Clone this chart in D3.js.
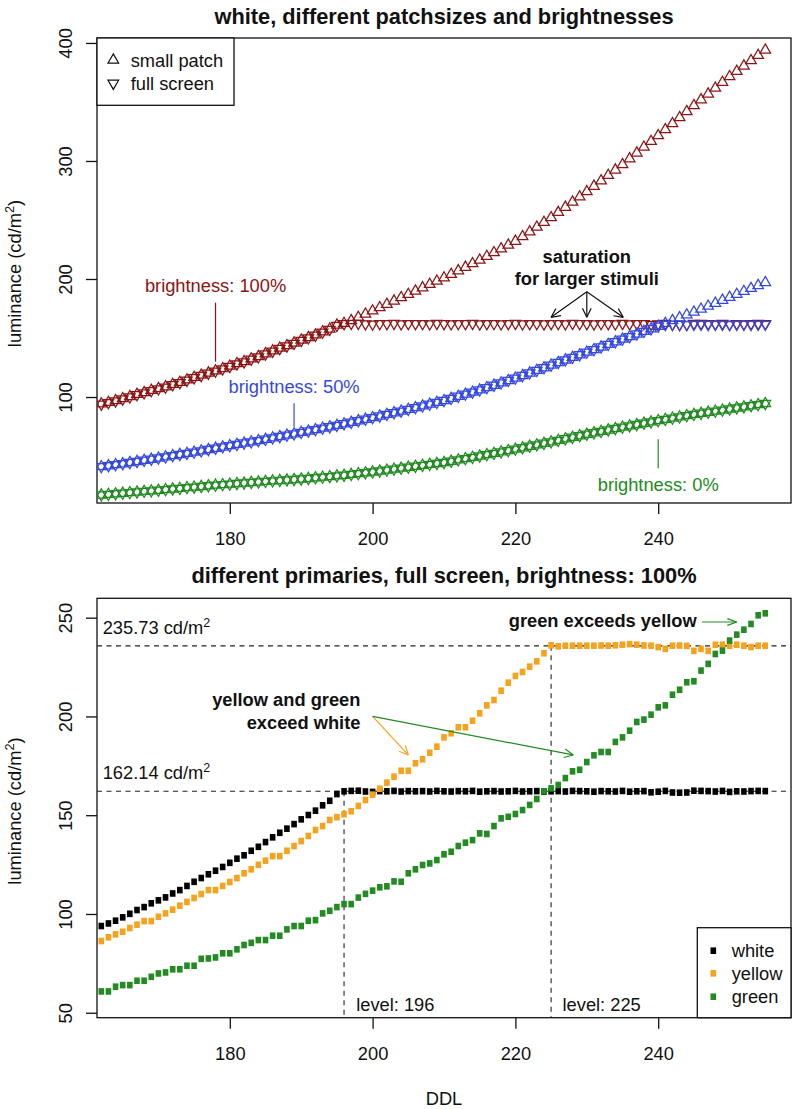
<!DOCTYPE html>
<html><head><meta charset="utf-8">
<script src="https://cdn.jsdelivr.net/npm/d3@7"></script>
<style>
body{margin:0;background:#fff}
svg{display:block}
text{font-family:"Liberation Sans",Arial,Helvetica,sans-serif;fill:#111}
</style>
</head><body>
<svg id="c" width="793" height="1109"></svg>
<script>
// ---------------- DATA ----------------
const ddl = [162,163,164,165,166,167,168,169,170,171,172,173,174,175,176,177,178,179,180,181,
182,183,184,185,186,187,188,189,190,191,192,193,194,195,196,197,198,199,200,201,
202,203,204,205,206,207,208,209,210,211,212,213,214,215,216,217,218,219,220,221,
222,223,224,225,226,227,228,229,230,231,232,233,234,235,236,237,238,239,240,241,
242,243,244,245,246,247,248,249,250,251,252,253,254,255];

// bottom panel: full screen, brightness 100%
const whiteFull = [93.9,95.2,96.6,98.3,100.1,102.0,103.5,105.4,106.9,108.4,
110.4,112.1,114.2,116.3,118.2,120.1,121.9,123.8,125.9,128.0,
129.7,132.0,134.0,136.4,138.8,141.1,143.2,145.5,147.9,150.1,
152.3,155.0,157.3,160.7,162.1,
162.3,162.4,162.0,161.8,162.2,162.1,162.3,162.0,162.2,162.1,
162.2,162.0,162.3,162.1,162.0,162.2,162.1,162.3,161.9,162.1,
162.2,162.0,162.1,162.3,162.0,162.1,162.2,161.9,162.1,162.2,
162.0,162.3,162.2,162.1,161.9,162.2,162.1,162.0,162.3,161.9,
162.1,162.2,161.6,161.9,162.3,161.5,161.4,161.5,162.4,162.3,
162.2,162.0,162.3,161.8,162.1,162.0,162.2,162.3,162.2];
const yellowFull = [86.3,88.2,89.7,91.0,92.9,94.6,96.4,96.4,98.6,100.3,
102.2,104.2,106.1,108.1,110.1,112.1,112.1,114.2,116.2,118.2,
120.6,122.6,124.9,127.0,129.3,129.3,132.0,134.4,136.9,139.5,
142.5,144.5,147.6,149.0,150.5,152.0,154.7,157.7,160.4,163.4,
166.5,169.5,172.5,172.5,176.3,178.3,181.6,184.7,189.4,191.5,
194.5,194.5,197.8,201.6,205.6,208.3,213.0,217.1,220.5,222.5,
225.2,227.9,232.0,236.0,235.5,235.8,235.8,235.8,235.8,235.8,
235.9,235.8,236.0,236.3,236.6,236.3,235.9,235.8,235.1,234.2,
235.8,235.9,235.7,233.2,234.2,233.2,236.3,236.3,235.8,236.3,
235.8,235.1,235.8,235.8];
const greenFull = [60.8,60.8,63.2,64.0,64.0,66.2,66.2,68.2,69.9,70.4,
72.0,72.0,73.8,73.8,77.3,77.5,78.0,80.1,80.1,82.1,
84.3,85.4,86.8,86.8,89.0,89.0,92.2,93.9,93.9,96.6,
96.9,100.3,101.6,103.5,105.0,105.0,108.3,110.2,111.8,113.5,
114.0,116.5,116.3,120.6,122.6,124.8,125.6,127.3,130.2,131.5,
134.4,136.1,137.4,140.8,140.5,144.5,148.4,149.2,150.6,152.6,
155.2,158.2,162.1,163.6,165.3,168.8,172.2,173.0,176.9,180.3,
182.0,182.0,187.1,189.4,192.8,197.2,198.4,200.9,204.6,205.6,
211.0,213.5,217.3,217.8,223.2,226.6,231.6,233.3,238.4,241.4,
243.9,246.8,251.2,252.2];

// top panel: white, small patch vs full screen, three brightness settings
const b100Small = [94.2,95.5,96.9,98.6,100.4,102.3,103.8,105.7,107.2,108.7,
110.7,112.4,114.5,116.6,118.5,120.4,122.2,124.1,126.2,128.3,
130.0,132.3,134.3,136.7,139.1,141.4,143.5,145.8,148.2,150.4,
152.6,155.3,157.6,161.0,162.4,164.8,167.5,170.2,173.0,175.8,
178.6,181.4,184.2,187.0,189.8,192.6,195.4,198.2,201.0,204.0,
207.0,210.0,213.0,216.0,219.2,222.4,225.6,228.8,232.0,236.0,
240.0,244.0,248.0,252.0,256.4,260.8,265.2,269.6,274.0,278.6,
283.2,287.8,292.4,297.0,301.9,306.8,311.7,316.6,321.5,326.6,
331.7,336.8,341.9,347.0,351.9,356.8,361.7,366.6,371.5,376.0,
380.5,385.0,389.5,394.0];
const b100Full = [93.9,95.2,96.6,98.3,100.1,102.0,103.5,105.4,106.9,108.4,
110.4,112.1,114.2,116.3,118.2,120.1,121.9,123.8,125.9,128.0,
129.7,132.0,134.0,136.4,138.8,141.1,143.2,145.5,147.9,150.1,
152.3,155.0,157.3,160.7,162.1,162.3,162.4,162.0,161.8,162.2,
162.1,162.3,162.0,162.2,162.1,162.2,162.0,162.3,162.1,162.0,
162.2,162.1,162.3,161.9,162.1,162.2,162.0,162.1,162.3,162.0,
162.1,162.2,161.9,162.1,162.2,162.0,162.3,162.2,162.1,161.9,
162.2,162.1,162.0,162.3,161.9,162.1,162.2,161.6,161.9,162.3,
161.5,161.4,161.5,162.4,162.3,162.2,162.0,162.3,161.8,162.1,
162.0,162.2,162.3,162.2];
const b50Small = [41.0,41.8,42.7,43.5,44.5,45.4,46.4,47.3,48.3,49.3,
50.3,51.3,52.3,53.3,54.4,55.5,56.6,57.7,58.8,59.9,
61.0,62.0,63.1,64.2,65.4,66.5,67.7,68.8,70.0,71.2,
72.4,73.6,74.8,76.0,77.3,78.6,79.9,81.2,82.5,83.9,
85.3,86.7,88.1,89.5,91.0,92.5,94.0,95.5,97.0,98.8,
100.6,102.4,104.2,106.0,108.0,110.0,112.0,114.0,116.0,118.2,
120.4,122.6,124.8,127.0,129.2,131.4,133.6,135.8,138.0,140.2,
142.4,144.6,146.8,149.0,151.2,153.4,155.6,157.8,160.0,162.4,
164.8,167.2,169.6,172.0,174.5,177.0,179.5,182.0,184.5,187.0,
189.5,192.0,194.5,197.0];
const b50Full = [41.0,41.8,42.7,43.5,44.5,45.4,46.4,47.3,48.3,49.3,
50.3,51.3,52.3,53.3,54.4,55.5,56.6,57.7,58.8,59.9,
61.0,62.0,63.1,64.2,65.4,66.5,67.7,68.8,70.0,71.2,
72.4,73.6,74.8,76.0,77.3,78.6,79.9,81.2,82.5,83.9,
85.3,86.7,88.1,89.5,91.0,92.5,94.0,95.5,97.0,98.8,
100.6,102.4,104.2,106.0,108.0,110.0,112.0,114.0,116.0,118.2,
120.4,122.6,124.8,127.0,129.2,131.4,133.6,135.8,138.0,140.2,
142.4,144.6,146.8,149.0,151.2,153.4,155.6,157.8,160.0,161.4,
161.6,161.5,161.3,161.6,161.5,161.4,161.6,161.5,161.3,161.5,
161.6,161.4,161.5,161.6];
const b0Small = [17.0,17.5,18.0,18.5,19.0,19.5,20.0,20.5,21.0,21.5,
22.1,22.6,23.2,23.7,24.2,24.8,25.3,25.8,26.2,26.7,
27.1,27.6,28.0,28.5,28.9,29.3,29.7,30.1,30.5,31.0,
31.6,32.1,32.6,33.2,33.7,34.4,35.1,35.8,36.5,37.3,
38.1,38.9,39.7,40.5,41.3,42.1,42.9,43.7,44.5,45.6,
46.7,47.8,48.9,50.0,51.2,52.3,53.5,54.6,55.8,57.0,
58.3,59.5,60.8,62.0,63.3,64.6,65.9,67.2,68.5,69.7,
70.9,72.1,73.3,74.5,75.6,76.7,77.8,78.9,80.0,81.1,
82.1,83.2,84.2,85.3,86.2,87.1,88.0,88.9,89.8,90.7,
91.7,92.6,93.6,94.5];
const b0Full = b0Small.slice();

const xTicks = [180,200,220,240];
const yTicksTop = [100,200,300,400];
const yTicksBot = [50,100,150,200,250];

const COL = {red:"#8b1414", blue:"#3548e0", green:"#228b22", orange:"#f7a21c", black:"#000"};

// ---------------- LAYOUT ----------------
const svg = d3.select("#c");
const L = 97, R = 791;
const P1 = {top:38, bottom:503};
const P2 = {top:598.3, bottom:1017.7};
const FS = 18.3;

const x = d3.scaleLinear().domain([161.4, 258.6]).range([L, R]);
const yTop = d3.scaleLinear().domain([10.2, 404.2]).range([P1.bottom, P1.top]);
const yBot = d3.scaleLinear().domain([47.5, 259.8]).range([P2.bottom, P2.top]);

const defs = svg.append("defs");
defs.append("clipPath").attr("id","clip1").append("rect")
  .attr("x",L).attr("y",P1.top).attr("width",R-L).attr("height",P1.bottom-P1.top);
defs.append("clipPath").attr("id","clip2").append("rect")
  .attr("x",L).attr("y",P2.top).attr("width",R-L).attr("height",P2.bottom-P2.top);

function triPath(up, s){ // s = half side
  const h = s*Math.sqrt(3); // full height
  const a = 2*h/3, b = h/3;
  return up ? `M0,${-a}L${s},${b}L${-s},${b}Z` : `M0,${a}L${s},${-b}L${-s},${-b}Z`;
}

function axes(y, P, yTicks){
  const gx = svg.append("g").attr("transform",`translate(0,${P.bottom})`)
    .call(d3.axisBottom(x).tickValues(xTicks).tickSize(11).tickPadding(18).tickFormat(d3.format("d")));
  gx.select(".domain").remove();
  gx.selectAll("line").attr("stroke","#111").attr("stroke-width",1.3);
  gx.selectAll("text").attr("font-size",FS).attr("fill","#111")
    .style("font-family","'Liberation Sans',Arial,sans-serif");
  const gy = svg.append("g").attr("transform",`translate(${L},0)`)
    .call(d3.axisLeft(y).tickValues(yTicks).tickSize(11).tickFormat(d3.format("d")));
  gy.select(".domain").remove();
  gy.selectAll("line").attr("stroke","#111").attr("stroke-width",1.3);
  gy.selectAll("text").attr("font-size",FS).attr("fill","#111")
    .style("font-family","'Liberation Sans',Arial,sans-serif")
    .attr("x",null).attr("dy",null).attr("text-anchor","middle")
    .attr("transform","translate(-25.5,0) rotate(-90)");
  svg.append("rect").attr("x",L).attr("y",P.top).attr("width",R-L).attr("height",P.bottom-P.top)
    .attr("fill","none").attr("stroke","#111").attr("stroke-width",1.3);
  // y title
  const yt = svg.append("text").attr("transform",`translate(21,${(P.top+P.bottom)/2+3}) rotate(-90)`)
    .attr("text-anchor","middle").attr("font-size",FS);
  yt.append("tspan").text("luminance (cd/m");
  yt.append("tspan").text("2").attr("font-size",FS*0.7).attr("dy",-7);
  yt.append("tspan").text(")").attr("dy",7);
}

function arrow(g, x1,y1,x2,y2,color,len=10,ang=Math.PI/7,w=1.2){
  g.append("line").attr("x1",x1).attr("y1",y1).attr("x2",x2).attr("y2",y2)
    .attr("stroke",color).attr("stroke-width",w);
  const a = Math.atan2(y2-y1,x2-x1);
  [-1,1].forEach(s=>{
    g.append("line").attr("x1",x2).attr("y1",y2)
      .attr("x2",x2-len*Math.cos(a+s*ang)).attr("y2",y2-len*Math.sin(a+s*ang))
      .attr("stroke",color).attr("stroke-width",w);
  });
}

function supText(g, xp, yp, main, anchor, color){
  const t = g.append("text").attr("x",xp).attr("y",yp).attr("font-size",FS)
    .attr("text-anchor",anchor||"start").style("fill",color||"#111");
  t.append("tspan").text(main);
  t.append("tspan").text("2").attr("font-size",FS*0.68).attr("dy",-7.5);
  return t;
}

// ---------------- TOP PANEL ----------------
svg.append("text").attr("x",(L+R)/2).attr("y",24).attr("text-anchor","middle")
  .attr("font-size",21.8).attr("font-weight","bold").text("white, different patchsizes and brightnesses");
axes(yTop, P1, yTicksTop);

const m1 = svg.append("g").attr("clip-path","url(#clip1)");
const topSeries = [
  {v:b100Small, up:true, c:COL.red},
  {v:b100Full, up:false, c:COL.red},
  {v:b50Small, up:true, c:COL.blue},
  {v:b50Full, up:false, c:COL.blue},
  {v:b0Small, up:true, c:COL.green},
  {v:b0Full, up:false, c:COL.green}
];
topSeries.forEach(s=>{
  m1.append("g").selectAll("path").data(ddl.map((d,i)=>[d,s.v[i]])).join("path")
    .attr("transform",d=>`translate(${x(d[0])},${yTop(d[1])})`)
    .attr("d",triPath(s.up,5.3)).attr("fill","none").attr("stroke",s.c).attr("stroke-width",1.25);
});

// legend top
svg.append("rect").attr("x",L).attr("y",P1.top).attr("width",137).attr("height",67.3)
  .attr("fill","#fff").attr("stroke","#111").attr("stroke-width",1.3);
[["small patch",true,60],["full screen",false,83.3]].forEach(([t,up,yy])=>{
  svg.append("path").attr("transform",`translate(113.3,${yy})`).attr("d",triPath(up,5.3))
    .attr("fill","none").attr("stroke","#111").attr("stroke-width",1.25);
  svg.append("text").attr("x",130.7).attr("y",yy+6.5).attr("font-size",FS).text(t);
});

// annotations top
const a1 = svg.append("g");
a1.append("text").attr("x",x(178)).attr("y",yTop(189.4)).attr("text-anchor","middle")
  .attr("font-size",FS).style("fill",COL.red).text("brightness: 100%");
a1.append("line").attr("x1",x(178)).attr("x2",x(178)).attr("y1",yTop(179.9)).attr("y2",yTop(129.9))
  .attr("stroke",COL.red).attr("stroke-width",1.2);
a1.append("text").attr("x",x(189)).attr("y",yTop(103.7)).attr("text-anchor","middle")
  .attr("font-size",FS).style("fill",COL.blue).text("brightness: 50%");
a1.append("line").attr("x1",x(189)).attr("x2",x(189)).attr("y1",yTop(94.7)).attr("y2",yTop(74.8))
  .attr("stroke",COL.blue).attr("stroke-width",1.2);
a1.append("text").attr("x",x(240)).attr("y",yTop(20.6)).attr("text-anchor","middle")
  .attr("font-size",FS).style("fill",COL.green).text("brightness: 0%");
a1.append("line").attr("x1",x(240)).attr("x2",x(240)).attr("y1",yTop(64.2)).attr("y2",yTop(39.6))
  .attr("stroke",COL.green).attr("stroke-width",1.2);
a1.append("text").attr("x",x(230)).attr("y",yTop(213.6)).attr("text-anchor","middle")
  .attr("font-size",FS).attr("font-weight","bold").text("saturation");
a1.append("text").attr("x",x(230)).attr("y",yTop(194.9)).attr("text-anchor","middle")
  .attr("font-size",FS).attr("font-weight","bold").text("for larger stimuli");
[225.0,230.0,235.1].forEach(d=>arrow(a1, x(230), yTop(189.2), x(d), yTop(167.5), "#111", 10, Math.PI/7, 1.2));

// ---------------- BOTTOM PANEL ----------------
svg.append("text").attr("x",(L+R)/2).attr("y",583).attr("text-anchor","middle")
  .attr("font-size",21.8).attr("font-weight","bold").text("different primaries, full screen, brightness: 100%");
axes(yBot, P2, yTicksBot);
svg.append("text").attr("x",(L+R)/2).attr("y",1105).attr("text-anchor","middle").attr("font-size",FS).text("DDL");

const g2 = svg.append("g").attr("clip-path","url(#clip2)");
// reference lines
const dash = "5,4.5";
g2.append("line").attr("x1",L).attr("x2",R).attr("y1",yBot(235.73)).attr("y2",yBot(235.73))
  .attr("stroke","#222").attr("stroke-width",1.1).attr("stroke-dasharray",dash);
g2.append("line").attr("x1",L).attr("x2",R).attr("y1",yBot(162.14)).attr("y2",yBot(162.14))
  .attr("stroke","#222").attr("stroke-width",1.1).attr("stroke-dasharray",dash);
g2.append("line").attr("x1",x(196)).attr("x2",x(196)).attr("y1",yBot(162.14)).attr("y2",P2.bottom)
  .attr("stroke","#222").attr("stroke-width",1.1).attr("stroke-dasharray",dash);
g2.append("line").attr("x1",x(225)).attr("x2",x(225)).attr("y1",yBot(235.73)).attr("y2",P2.bottom)
  .attr("stroke","#222").attr("stroke-width",1.1).attr("stroke-dasharray",dash);

const SQW = 5.6, SQH = 6.6;
[{v:whiteFull,c:COL.black},{v:yellowFull,c:COL.orange},{v:greenFull,c:COL.green}].forEach(s=>{
  g2.append("g").selectAll("rect").data(ddl.map((d,i)=>[d,s.v[i]])).join("rect")
    .attr("x",d=>x(d[0])-SQW/2).attr("y",d=>yBot(d[1])-SQH/2)
    .attr("width",SQW).attr("height",SQH).attr("fill",s.c);
});

// texts bottom
supText(svg, x(162.2), yBot(241.7), "235.73 cd/m");
supText(svg, x(162.2), yBot(168.2), "162.14 cd/m");
svg.append("text").attr("x",x(197.7)).attr("y",yBot(50.9)).attr("font-size",FS).text("level: 196");
svg.append("text").attr("x",x(226.6)).attr("y",yBot(50.9)).attr("font-size",FS).text("level: 225");
svg.append("text").attr("x",x(198.3)).attr("y",yBot(205.5)).attr("text-anchor","end")
  .attr("font-size",FS).attr("font-weight","bold").text("yellow and green");
svg.append("text").attr("x",x(198.3)).attr("y",yBot(193.6)).attr("text-anchor","end")
  .attr("font-size",FS).attr("font-weight","bold").text("exceed white");
const a2 = svg.append("g");
arrow(a2, x(200.0), yBot(200.0), x(205.0), yBot(180.5), COL.orange, 10, Math.PI/7, 1.2);
arrow(a2, x(200.0), yBot(200.0), x(228.1), yBot(180.5), COL.green, 10, Math.PI/7, 1.2);
svg.append("text").attr("x",x(245.4)).attr("y",yBot(245.3)).attr("text-anchor","end")
  .attr("font-size",FS).attr("font-weight","bold").text("green exceeds yellow");
arrow(a2, x(246.1), yBot(247.8), x(251.0), yBot(247.8), COL.green, 10, Math.PI/9, 1.2);

// legend bottom
svg.append("rect").attr("x",697.3).attr("y",927.7).attr("width",R-697.3).attr("height",P2.bottom-927.7)
  .attr("fill","#fff").attr("stroke","#111").attr("stroke-width",1.3);
[["white",COL.black,950.7],["yellow",COL.orange,973.3],["green",COL.green,996.7]].forEach(([t,c,yy])=>{
  svg.append("rect").attr("x",713.3-SQW/2).attr("y",yy-SQH/2).attr("width",SQW).attr("height",SQH).attr("fill",c);
  svg.append("text").attr("x",731.7).attr("y",yy+6.3).attr("font-size",FS).text(t);
});

// sanity check on array lengths
[whiteFull,yellowFull,greenFull,b100Small,b100Full,b50Small,b50Full,b0Small].forEach((a,i)=>{
  if(a.length!==ddl.length) svg.append("text").attr("x",300).attr("y",400+i*20).attr("fill","red")
    .text("len mismatch "+i+": "+a.length);
});
</script>
</body></html>
